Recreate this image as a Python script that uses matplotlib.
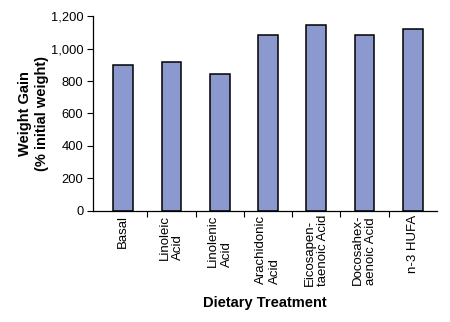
import numpy as np
import matplotlib.pyplot as plt
from matplotlib.transforms import offset_copy

treatments = ["Basal", "Linoleic\nAcid", "Linolenic\nAcid", "Arachidonic\nAcid",
              "Eicosapen-\ntaenoic Acid", "Docosahex-\naenoic Acid", "n-3 HUFA"]
weight_gain = [900, 916, 845, 1083, 1148, 1083, 1120]
y_ticks = [0, 200, 400, 600, 800, 1000, 1200]

plt.rcParams['font.family'] = ['Liberation Sans', 'DejaVu Sans']

fig = plt.figure(figsize=(4.5, 3.22), dpi=100)
ax = fig.add_axes([93 / 450, 1 - 210.7 / 322, (437 - 93) / 450, (210.7 - 16.3) / 322])

x = np.arange(len(treatments))
ax.bar(x, weight_gain, width=0.41, color='#8c99cf', edgecolor='black', linewidth=1.1)

ax.set_xlim(-0.625, len(treatments) - 0.5)
ax.set_ylim(0, 1200)
ax.set_yticks(y_ticks)
ax.set_yticklabels([f"{v:,}" for v in y_ticks], fontsize=9.3)

# category boundary ticks on x axis
ax.set_xticks(np.arange(1, len(treatments)) - 0.5)
ax.set_xticklabels([])
ax.tick_params(axis='x', length=4, width=0.8, direction='out')
ax.tick_params(axis='y', length=4, width=0.8, direction='out', pad=3)

lab_tr = offset_copy(ax.get_xaxis_transform(), fig=fig, y=-3, units='points')
for xi, lab in zip(x, treatments):
    ax.text(xi, 0, lab, transform=lab_tr, rotation=90,
            ha='center', va='top', multialignment='left', fontsize=9.5)

ax.spines['top'].set_visible(False)
ax.spines['right'].set_visible(False)
ax.spines['left'].set_linewidth(0.9)
ax.spines['bottom'].set_linewidth(0.9)

ax.set_ylabel("Weight Gain\n(% initial weight)", fontsize=10.5, fontweight='bold', labelpad=1.5)
fig.text((93 + 437) / 2 / 450, 1 - 303 / 322, "Dietary Treatment", ha='center', va='center',
         fontsize=10.5, fontweight='bold')

fig.savefig("out.png", dpi=100)
